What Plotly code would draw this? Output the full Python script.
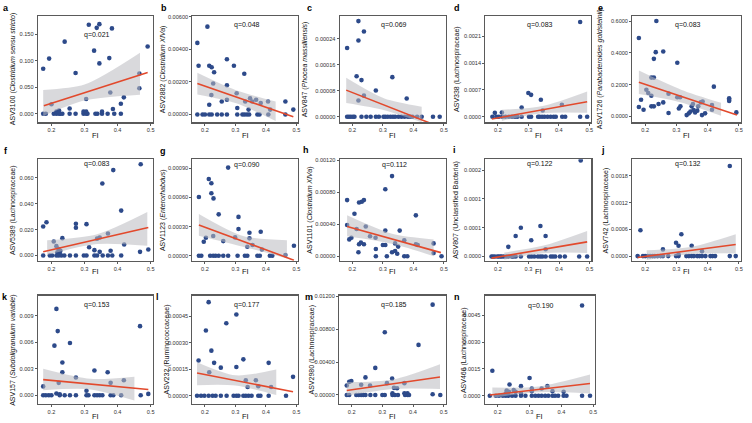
import plotly.graph_objects as go

W, H = 752, 423

# ---------------- data ----------------
a_x = [0.175,0.193,0.240,0.313,0.337,0.345,0.383,0.329,0.375,0.345,0.273,0.491,0.466,0.466,0.378,0.305,0.419,0.410,0.200,0.386,0.255,
       0.175,0.183,0.207,0.215,0.223,0.227,0.233,0.255,0.273,0.297,0.305,0.309,0.333,0.339,0.353,0.353,0.370,0.390,0.410,
       0.215,0.223,0.297,0.305]
a_y = [0.085,0.104,0.136,0.168,0.162,0.169,0.161,0.119,0.105,0.095,0.077,0.127,0.076,0.048,0.040,0.028,0.031,0.019,0.018,0.009,0.010,
       0,0,0,0,0,0,0,0,0,0,0,0,0,0,0,0.004,0,0,0,
       0.004,0.006,0.004,0.004]
a_line_x = [0.177, 0.491]; a_line_y = [0.015, 0.078]
a_band_x = [0.175, 0.30, 0.468]; a_band_lo = [-0.004, 0.025, 0.036]; a_band_hi = [0.045, 0.055, 0.115]

b_x = [0.175,0.179,0.208,0.214,0.222,0.230,0.227,0.221,0.214,0.272,0.295,0.329,0.272,0.272,0.255,0.304,0.306,0.332,0.348,0.355,0.368,0.383,0.407,0.464,0.343,0.414,0.490,
       0.175,0.192,0.200,0.214,0.222,0.240,0.255,0.272,0.306,0.323,0.330,0.338,0.345,0.372,0.379,0.408,0.464]
b_y = [0.0044,0.0030,0.0054,0.0030,0.0029,0.0026,0.0019,0.0012,0.0006,0.0034,0.0030,0.0025,0.0018,0.0009,0.0008,0.0013,0.0004,0.0008,0.0010,0.0008,0.0009,0.0007,0.0008,0.0008,0.0003,0.0003,0.0003,
       0,0,0,0,0,0,0,0,0,0,0,0,0,0,0,0,0]
b_line_x = [0.175, 0.49]; b_line_y = [0.0019, -0.00014]
b_band_x = [0.175, 0.30, 0.432]; b_band_lo = [0.00123, 0.0007, -0.0004]; b_band_hi = [0.00256, 0.0015, 0.0008]

c_x = [0.183,0.220,0.220,0.238,0.214,0.230,0.277,0.331,0.378,0.220,0.238,
       0.183,0.189,0.195,0.202,0.207,0.230,0.246,0.260,0.277,0.287,0.302,0.308,0.316,0.325,0.333,0.340,0.351,0.361,0.371,0.382,0.390,0.397,0.412,0.427,0.464,0.486]
c_y = [0.000212,0.000295,0.000235,0.000263,0.000125,0.000113,0.000081,0.000122,0.000056,0.000050,0.000065,
       0,0,0,0,0,0,0,0,0,0,0,0,0,0,0,0,0,0,0,0,0,0,0,0,0,0]
c_line_x = [0.18, 0.49]; c_line_y = [0.000082, -0.000033]
c_band_x = [0.18, 0.305, 0.427]; c_band_lo = [0.000042, 0.000020, -0.000017]; c_band_hi = [0.00012, 0.000056, 0.000031]

d_x = [0.470,0.300,0.309,0.341,0.278,0.190,0.213,0.347,0.410,
       0.182,0.195,0.203,0.215,0.225,0.236,0.246,0.256,0.264,0.278,0.302,0.309,0.332,0.337,0.345,0.353,0.363,0.373,0.383,0.390,0.411,0.421,0.470,0.493]
d_y = [0.00247,0.00062,0.00057,0.00044,0.00024,0.0001,0.00011,0.00016,0.00031,
       0,0,0,0,0,0,0,0,0,0,0,0,0,0,0,0,0,0,0,0,0,0,0,0]
d_line_x = [0.18, 0.493]; d_line_y = [-0.00006, 0.00039]
d_band_x = [0.213, 0.347, 0.493]; d_band_lo = [-0.00011, 0.00009, 0.0001]; d_band_hi = [0.00018, 0.00028, 0.00066]

e_x = [0.180,0.236,0.234,0.258,0.228,0.303,0.220,0.228,0.204,0.210,0.220,0.187,0.180,0.195,0.220,0.228,0.243,0.258,0.275,0.303,0.312,0.308,
       0.313,0.275,0.333,0.340,0.349,0.353,0.384,0.378,0.370,0.392,0.382,0.420,0.414,0.414,0.469,0.469,0.469,0.492,0.367,0.345,0.355,0.360]
e_y = [0.493,0.600,0.404,0.408,0.362,0.337,0.244,0.244,0.168,0.147,0.130,0.105,0.059,0.042,0.063,0.063,0.078,0.088,0.143,0.120,0.120,0.050,
       0.063,0.021,0.008,0.019,0.063,0.078,0.093,0.088,0.063,0.019,0.008,0.187,0.072,0.042,0.114,0.105,0.097,0.025,0.036,0.030,0.040,0.025]
e_line_x = [0.18, 0.494]; e_line_y = [0.215, 0.008]
e_band_x = [0.18, 0.315, 0.443]; e_band_lo = [0.141, 0.088, 0.004]; e_band_hi = [0.288, 0.168, 0.085]

f_x = [0.470,0.387,0.354,0.411,0.185,0.175,0.274,0.274,0.306,0.233,0.207,0.371,0.346,0.338,0.420,0.314,0.330,0.346,0.379,0.468,0.493,0.215,0.222,0.227,0.218,0.225,
       0.175,0.195,0.202,0.215,0.222,0.230,0.239,0.256,0.274,0.298,0.306,0.330,0.338,0.355,0.371,0.384,0.411]
f_y = [0.0705,0.066,0.0556,0.0347,0.0257,0.0224,0.0245,0.0214,0.0242,0.0134,0.0108,0.017,0.0139,0.013,0.0085,0.0064,0.0041,0.0028,0.0036,0.0028,0.0046,0.0072,0.0049,0.0036,0.0025,0.002,
       0,0,0,0,0,0,0,0,0,0,0,0,0,0,0,0,0]
f_line_x = [0.175, 0.493]; f_line_y = [0.0028, 0.0216]
f_band_x = [0.187, 0.338, 0.49]; f_band_lo = [0.0003, 0.0088, 0.0075]; f_band_hi = [0.0118, 0.0165, 0.0337]

g_x = [0.276,0.2125,0.221,0.221,0.228,0.180,0.245,0.310,0.310,0.383,0.346,0.196,0.203,0.227,0.260,0.299,0.339,0.356,0.346,0.387,0.492,0.464,
       0.180,0.188,0.217,0.227,0.235,0.245,0.260,0.276,0.307,0.331,0.339,0.372,0.380,0.413,0.421]
g_y = [0.000907,0.00079,0.000746,0.000643,0.00059,0.000605,0.000426,0.0004,0.000275,0.000247,0.000237,0.000144,0.000186,0.000203,0.000151,0.000189,0.000093,0.00011,0.000179,0.000065,0.000103,0.000007,
       0,0,0,0,0,0,0,0,0,0,0,0,0,0,0]
g_line_x = [0.18, 0.492]; g_line_y = [0.000316, -0.000045]
g_band_x = [0.18, 0.325, 0.469]; g_band_lo = [0.000206, 0.000093, -0.000027]; g_band_hi = [0.00043, 0.000203, 0.00016]

h_x = [0.330,0.308,0.183,0.222,0.231,0.238,0.207,0.408,0.183,0.244,0.214,0.308,0.355,0.190,0.197,0.258,0.276,0.222,0.228,0.238,0.300,0.308,0.340,0.370,0.350,
       0.220,0.277,0.330,0.340,0.347,0.370,0.380,0.313,0.277,0.466,0.466,0.492,0.408,0.414]
h_y = [0.001,0.000835,0.0007,0.00067,0.00068,0.0007,0.00053,0.00051,0.00039,0.00037,0.00034,0.00032,0.00032,0.00021,0.00023,0.00025,0.00023,0.00015,0.00017,0.00015,0.00014,0.00014,0.00016,0.0002,0.00012,
       0.00005,0.00009,0.00005,0.000065,0.00003,0,0,0,0,0.00016,0.00004,0,0.00015,0.00014]
h_line_x = [0.183, 0.49]; h_line_y = [0.00037, 0.000045]
h_band_x = [0.183, 0.33, 0.466]; h_band_lo = [0.00025, 0.000155, 0.0]; h_band_hi = [0.00051, 0.00028, 0.00021]

i_x = [0.471,0.339,0.275,0.258,0.309,0.356,0.234,0.356,
       0.179,0.184,0.190,0.198,0.203,0.208,0.2125,0.219,0.227,0.234,0.245,0.250,0.258,0.275,0.302,0.310,0.319,0.331,0.339,0.346,0.356,0.373,0.380,0.3875,0.403,0.419,0.466,0.492]
i_y = [0.000167,0.0000529,0.00005,0.0000356,0.0000282,0.0000356,0.0000167,0.0000126,
       0,0,0,0,0,0,0,0,0,0,0,0,0,0,0,0,0,0,0,0,0,0,0,0,0,0,0,0]
i_line_x = [0.179, 0.492]; i_line_y = [-0.0000029, 0.0000253]
i_band_x = [0.221, 0.346, 0.492]; i_band_lo = [-0.0000057, 0.0000057, 0.0000062]; i_band_hi = [0.0000069, 0.0000184, 0.0000443]

j_x = [0.471,0.185,0.316,0.299,0.307,0.349,0.257,0.382,0.307,
       0.176,0.193,0.200,0.208,0.216,0.224,0.231,0.240,0.250,0.257,0.274,0.299,0.307,0.332,0.340,0.349,0.356,0.367,0.374,0.382,0.393,0.409,0.416,0.424,0.471,0.490]
j_y = [0.00202,0.00058,0.00049,0.0003,0.00023,0.00023,0.00015,0.00011,0.00004,
       0,0,0,0,0,0,0,0,0,0,0,0,0,0,0,0,0,0,0,0,0,0,0,0,0,0]
j_line_x = [0.176, 0.49]; j_line_y = [-0.00003, 0.00026]
j_band_x = [0.205, 0.35, 0.49]; j_band_lo = [-0.00009, 0.000045, 0.00006]; j_band_hi = [0.00013, 0.00021, 0.00049]

k_x = [0.215,0.219,0.209,0.256,0.233,0.233,0.468,0.330,0.370,0.274,0.175,0.222,0.379,0.419,0.306,0.215,0.225,0.493,
       0.175,0.183,0.192,0.200,0.225,0.240,0.256,0.274,0.306,0.312,0.330,0.338,0.346,0.354,0.379,0.387,0.411,0.470]
k_y = [0.00975,0.00724,0.0056,0.0059,0.0037,0.0026,0.0078,0.0028,0.0026,0.002,0.001,0.0014,0.0014,0.0017,0.0005,0.0002,0.0001,0.00015,
       0,0,0,0,0,0,0,0,0,0,0,0,0,0,0,0,0,0]
k_line_x = [0.175, 0.493]; k_line_y = [0.00176, 0.00064]
k_band_x = [0.175, 0.318, 0.451]; k_band_lo = [0.00056, 0.00066, -0.0006]; k_band_hi = [0.003, 0.00186, 0.0021]

l_x = [0.212,0.203,0.270,0.303,0.179,0.221,0.230,0.252,0.326,0.303,0.214,0.409,0.367,0.334,0.340,0.375,0.417,0.489,
       0.174,0.187,0.198,0.212,0.225,0.235,0.252,0.271,0.294,0.303,0.310,0.326,0.334,0.343,0.353,0.375,0.382,0.409,0.466]
l_y = [0.000529,0.000369,0.00041,0.000459,0.000199,0.000255,0.000186,0.000159,0.000206,0.000163,0.000133,0.000186,0.000088,0.000088,0.00005,0.000054,0.00005,0.000107,
       0,0,0,0,0,0,0,0,0,0,0,0,0,0,0,0,0,0,0]
l_line_x = [0.174, 0.489]; l_line_y = [0.000129, 0.0000225]
l_band_x = [0.174, 0.30, 0.434]; l_band_lo = [0.00006, 0.000058, 0.0000038]; l_band_hi = [0.00019, 0.000116, 0.000148]

m_x = [0.464,0.308,0.418,0.277,0.245,0.199,0.192,0.332,0.184,0.231,0.260,0.315,0.372,0.338,0.348,0.333,0.382,0.464,0.372,
       0.184,0.192,0.215,0.223,0.231,0.238,0.245,0.261,0.277,0.300,0.308,0.333,0.341,0.351,0.374,0.382,0.387,0.489]
m_y = [0.011,0.00763,0.0061,0.0033,0.00214,0.0017,0.0016,0.002,0.00115,0.00124,0.00115,0.00144,0.00144,0.00087,0.00082,0.0002,0.0002,0.00008,0.0002,
       0,0,0,0,0,0,0,0,0,0,0,0,0,0,0,0,0,0]
m_line_x = [0.184, 0.488]; m_line_y = [0.00054, 0.00219]
m_band_x = [0.184, 0.336, 0.488]; m_band_lo = [-0.00008, 0.00074, 0.00074]; m_band_hi = [0.00157, 0.0019, 0.00375]

n_x = [0.465,0.183,0.237,0.300,0.273,0.273,0.250,0.256,0.307,0.307,0.338,0.356,0.372,0.407,0.225,0.235,0.228,
       0.175,0.194,0.204,0.216,0.225,0.233,0.245,0.256,0.273,0.287,0.307,0.318,0.328,0.338,0.349,0.359,0.372,0.380,0.390,0.407,0.416,0.465,0.490]
n_y = [0.00506,0.0014,0.00063,0.001,0.00054,0.00013,0.00032,0.00022,0.00041,0.00026,0.00041,0.00054,0.00026,0.00022,0.00013,0.00022,0.0003,
       0,0,0,0,0,0,0,0,0,0,0,0,0,0,0,0,0,0,0,0,0,0,0]
n_line_x = [0.175, 0.49]; n_line_y = [0.00004, 0.00069]
n_band_x = [0.183, 0.328, 0.49]; n_band_lo = [-0.00011, 0.0002, 0.00013]; n_band_hi = [0.00046, 0.00052, 0.00119]

q_labels = ["q=0.021","q=0.048","q=0.069","q=0.083","q=0.083","q=0.083","q=0.090","q=0.112",
            "q=0.122","q=0.132","q=0.153","q=0.177","q=0.185","q=0.190"]
y_titles = ["ASV3100 (<i>Clostridium sensu stricto</i>)", "ASV2882 (<i>Clostridium XlVa</i>)",
            "ASV847 (<i>Phocea massiliensis</i>)", "ASV338 (Lachnospiraceae)",
            "ASV1726 (<i>Parabacteroides goldsteinii</i>)", "ASV5389 (Lachnospiraceae)",
            "ASV1123 (<i>Enterorhabdus</i>)", "ASV1101 (<i>Clostridium XlVa</i>)",
            "ASV807 (Unclassified Bacteria)", "ASV742 (Lachnospiraceae)",
            "ASV157 (<i>Subdoligranulum variable</i>)", "ASV232 (Ruminococcaceae)",
            "ASV2980 (Lachnospiraceae)", "ASV466 (Lachnospiraceae)"]
x_ticks = [0.2, 0.3, 0.4, 0.5]
y_ticks = [[0, 0.05, 0.10, 0.15], [0, 0.002, 0.004, 0.006], [0, 0.00008, 0.00016, 0.00024],
           [0, 0.0007, 0.0014, 0.0021], [0, 0.2, 0.4, 0.6], [0, 0.02, 0.04, 0.06],
           [0, 0.0003, 0.0006, 0.0009], [0, 0.0004, 0.0008, 0.0012], [0, 0.00005, 0.0001, 0.00015],
           [0, 0.0006, 0.0012, 0.0018], [0, 0.003, 0.006, 0.009], [0, 0.00015, 0.0003, 0.00045],
           [0, 0.004, 0.008, 0.012], [0, 0.0015, 0.003, 0.0045]]
y_tick_text = [["0.000","0.050","0.100","0.150"], ["0.00000","0.00200","0.00400","0.00600"],
               ["0.00000","0.00008","0.00016","0.00024"], ["0.0000","0.0007","0.0014","0.0021"],
               ["0.0000","0.2000","0.4000","0.6000"], ["0.000","0.020","0.040","0.060"],
               ["0.00000","0.00030","0.00060","0.00090"], ["0.00000","0.00040","0.00080","0.00120"],
               ["0.0000","0.0001","0.0001","0.0002"], ["0.0000","0.0006","0.0012","0.0018"],
               ["0.000","0.003","0.006","0.009"], ["0.00000","0.00015","0.00030","0.00045"],
               ["0.00000","0.00400","0.00800","0.01200"], ["0.0000","0.0015","0.0030","0.0045"]]

PANELS = [
    ("a", a_x, a_y, a_line_x, a_line_y, a_band_x, a_band_lo, a_band_hi),
    ("b", b_x, b_y, b_line_x, b_line_y, b_band_x, b_band_lo, b_band_hi),
    ("c", c_x, c_y, c_line_x, c_line_y, c_band_x, c_band_lo, c_band_hi),
    ("d", d_x, d_y, d_line_x, d_line_y, d_band_x, d_band_lo, d_band_hi),
    ("e", e_x, e_y, e_line_x, e_line_y, e_band_x, e_band_lo, e_band_hi),
    ("f", f_x, f_y, f_line_x, f_line_y, f_band_x, f_band_lo, f_band_hi),
    ("g", g_x, g_y, g_line_x, g_line_y, g_band_x, g_band_lo, g_band_hi),
    ("h", h_x, h_y, h_line_x, h_line_y, h_band_x, h_band_lo, h_band_hi),
    ("i", i_x, i_y, i_line_x, i_line_y, i_band_x, i_band_lo, i_band_hi),
    ("j", j_x, j_y, j_line_x, j_line_y, j_band_x, j_band_lo, j_band_hi),
    ("k", k_x, k_y, k_line_x, k_line_y, k_band_x, k_band_lo, k_band_hi),
    ("l", l_x, l_y, l_line_x, l_line_y, l_band_x, l_band_lo, l_band_hi),
    ("m", m_x, m_y, m_line_x, m_line_y, m_band_x, m_band_lo, m_band_hi),
    ("n", n_x, n_y, n_line_x, n_line_y, n_band_x, n_band_lo, n_band_hi),
]

# ---------------- layout (pixel positions of each frame) ----------------
FRAMES = [(38,153,14,121),(193,299,14,121),(340.7,447,14,121),(486.7,592.7,14,121),(634,742.7,14,121),
          (38,153,158,260),(193,299,158,260),(340.7,447,158,260),(486.7,593,158,260),(634,742.7,158,260),
          (38,153,295,404),(193,299,295,404),(340,446.7,295,404),(486,596.7,295,404)]
Y_RANGES = [(-0.0163,0.1845),(-0.00049,0.00606),(-0.0000177,0.000311),(-0.00015,0.00263),(-0.038,0.632),
            (-0.0041,0.0744),(-0.0000515,0.000993),(-0.0000567,0.00121),(-0.0000075,0.000169),(-0.000105,0.00217),
            (-0.001,0.01125),(-0.0000469,0.000566),(-0.00111,0.0121),(-0.000465,0.00561)]
TITLE_X = [13,163.5,306,458,601.7,13,163.5,310.5,457,608,13,167,312.5,465.5]
LETTER_XY = [(6,6),(164,6),(310,6),(458,6),(602,6),(6,150),(163,150),(307,149),(456,149),(605,149),
             (5,296),(158,296),(310,296),(458,296)]
Q_Y = [33,23,23,23,23,163,164,164,163,163,304,304,304,305]
FI_Y = {14:134, 158:271, 295:416}

PT_COLOR = "#2D4A8A"
LINE_COLOR = "#E2492C"
BAND_COLOR = "rgba(185,185,192,0.55)"
AX_COLOR = "#5a5a5a"
FONT = "Liberation Sans, Arial, sans-serif"

fig = go.Figure()
annotations = []
layout = {}
for idx, (key, xs, ys, lx, ly, bx, blo, bhi) in enumerate(PANELS):
    n = idx + 1
    xa = "x" if n == 1 else f"x{n}"
    ya = "y" if n == 1 else f"y{n}"
    fig.add_trace(go.Scatter(x=xs, y=ys, mode="markers", xaxis=xa, yaxis=ya,
                             marker=dict(size=4.6, color=PT_COLOR, line=dict(width=0)),
                             hoverinfo="skip"))
    fig.add_trace(go.Scatter(x=bx, y=blo, mode="lines", xaxis=xa, yaxis=ya,
                             line=dict(width=0, shape="spline", smoothing=0.8), hoverinfo="skip"))
    fig.add_trace(go.Scatter(x=bx, y=bhi, mode="lines", xaxis=xa, yaxis=ya, fill="tonexty",
                             fillcolor=BAND_COLOR,
                             line=dict(width=0, shape="spline", smoothing=0.8), hoverinfo="skip"))
    fig.add_trace(go.Scatter(x=lx, y=ly, mode="lines", xaxis=xa, yaxis=ya,
                             line=dict(color=LINE_COLOR, width=1.6), hoverinfo="skip"))

    L, R, T, B = FRAMES[idx]
    axcommon = dict(showline=True, mirror=True, linecolor=AX_COLOR, linewidth=1.2,
                    ticks="outside", ticklen=2, tickwidth=1, tickcolor=AX_COLOR,
                    showgrid=False, zeroline=False,
                    tickfont=dict(size=5.6, color="#333333", family=FONT))
    layout["xaxis" + ("" if n == 1 else str(n))] = dict(
        domain=[L / W, R / W], range=[0.159, 0.506], anchor=ya,
        tickvals=x_ticks, ticktext=["0.2", "0.3", "0.4", "0.5"], **axcommon)
    layout["yaxis" + ("" if n == 1 else str(n))] = dict(
        domain=[1 - B / H, 1 - T / H], range=list(Y_RANGES[idx]), anchor=xa,
        tickvals=y_ticks[idx], ticktext=y_tick_text[idx], **axcommon)

    cy = 1 - (T + B) / 2 / H
    annotations.append(dict(text=y_titles[idx], x=TITLE_X[idx] / W, y=cy, xref="paper", yref="paper",
                            textangle=-90, showarrow=False, xanchor="center", yanchor="middle",
                            font=dict(size=7, color="#111111", family=FONT)))
    lxp, lyp = LETTER_XY[idx]
    annotations.append(dict(text="<b>" + key + "</b>", x=lxp / W, y=1 - lyp / H, xref="paper", yref="paper",
                            showarrow=False, xanchor="center", yanchor="middle",
                            font=dict(size=9, color="#000000", family=FONT)))
    annotations.append(dict(text=q_labels[idx], x=(L + R) / 2 / W + 0.002, y=1 - Q_Y[idx] / H,
                            xref="paper", yref="paper", showarrow=False, xanchor="center", yanchor="middle",
                            font=dict(size=7, color="#111111", family=FONT)))
    annotations.append(dict(text="FI", x=(L + R) / 2 / W, y=1 - FI_Y[T] / H,
                            xref="paper", yref="paper", showarrow=False, xanchor="center", yanchor="middle",
                            font=dict(size=7.5, color="#111111", family=FONT)))

fig.update_layout(width=W, height=H, margin=dict(l=0, r=0, t=0, b=0),
                  paper_bgcolor="white", plot_bgcolor="white", showlegend=False,
                  annotations=annotations, font=dict(family=FONT), **layout)
fig.write_html("out.html", config={"displayModeBar": False, "staticPlot": True},
               post_script="document.body.style.margin='0px';document.body.style.overflow='hidden';")
